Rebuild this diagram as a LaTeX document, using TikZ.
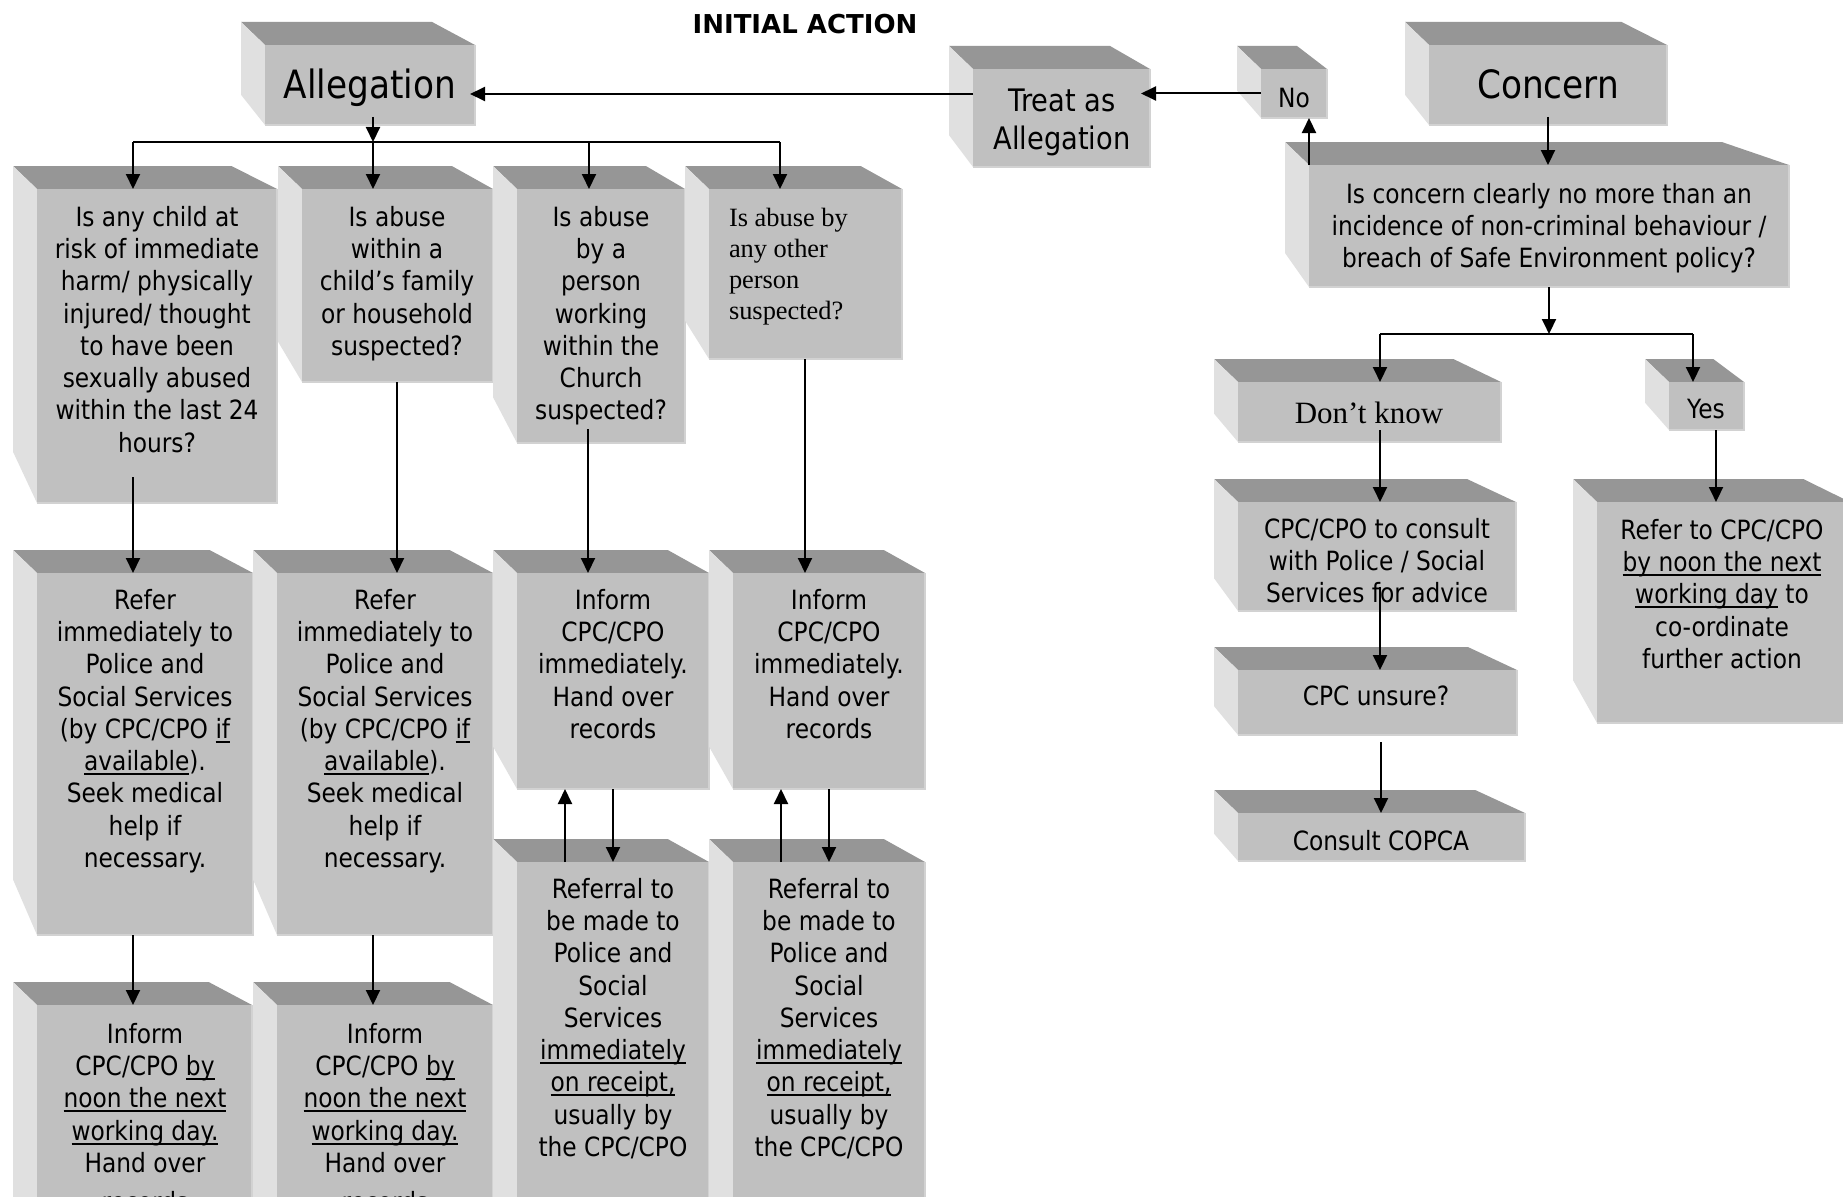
\documentclass[tikz,border=0pt]{standalone}
\usepackage{fontspec}
\setmainfont{DejaVu Sans}[FakeStretch=0.88]
\newfontfamily\tserif{Liberation Serif}
\newfontfamily\ttitle{DejaVu Sans}
\usetikzlibrary{arrows.meta,calc}
\definecolor{frontc}{HTML}{C0C0C0}
\definecolor{topc}{HTML}{969696}
\definecolor{sidec}{HTML}{E0E0E0}
\definecolor{edgec}{HTML}{D2D2D2}
\newsavebox\ulbox
\newcommand\ul[1]{\sbox\ulbox{#1}\rlap{\rule[-4.5pt]{\wd\ulbox}{2pt}}\usebox\ulbox}
\newcommand\bodysize{\fontsize{26.5}{32.3}\selectfont}
\newcommand\boxthree[5]{%
  \pgfmathsetmacro\cw{#4-#2}\pgfmathsetmacro\ch{#5-#3}%
  \fill[topc] (#2,#3) -- ({#2-24},{#3-23}) -- ({#2-24+0.91*\cw},{#3-23}) -- (#4,#3) -- cycle;
  \fill[sidec] (#2,#3) -- ({#2-24},{#3-23}) -- ({#2-24},{#3-23+0.91*\ch}) -- (#2,#5) -- cycle;
  \node[frontface, minimum width=\cw pt, minimum height=\ch pt, anchor=north west] (#1) at (#2,#3) {};
  \draw[edgec, line width=2pt] (#4,#3) -- (#4,#5) -- (#2,#5);
}
\tikzset{
  frontface/.style={fill=frontc, draw=none, inner sep=0pt, outer sep=0pt},
  txt/.style={inner sep=0pt, outer sep=0pt, align=center, font=\bodysize},
  arr/.style={line width=2pt, -{Triangle[length=15pt,width=14pt]}},
  ln/.style={line width=2pt}
}
\begin{document}
\begin{tikzpicture}[x=1pt,y=-1pt]
\useasboundingbox (0,0) rectangle (1843,1196);
\clip (0,0) rectangle (1843,1196);
\fill[white] (0,0) rectangle (1843,1196);

% boxes
\boxthree{alleg}{265}{45}{475}{125}
\boxthree{treat}{973}{69}{1150}{167}
\boxthree{no}{1261}{69}{1327}{118}
\boxthree{concern}{1429}{45}{1667}{125}
\boxthree{isconc}{1309}{165}{1789}{287}
\boxthree{q1}{37}{189}{277}{503}
\boxthree{q2}{302}{189}{493}{382}
\boxthree{q3}{517}{189}{685}{443}
\boxthree{q4}{709}{189}{902}{359}
\boxthree{r1}{37}{573}{253}{935}
\boxthree{r2}{277}{573}{493}{935}
\boxthree{i3}{517}{573}{709}{789}
\boxthree{i4}{733}{573}{925}{789}
\boxthree{n1}{37}{1005}{252}{1320}
\boxthree{n2}{277}{1005}{493}{1320}
\boxthree{f3}{517}{862}{709}{1320}
\boxthree{f4}{733}{862}{925}{1320}
\boxthree{dk}{1238}{382}{1501}{442}
\boxthree{yes}{1669}{382}{1744}{430}
\boxthree{consult}{1238}{502}{1516}{611}
\boxthree{unsure}{1238}{670}{1517}{735}
\boxthree{copca}{1238}{813}{1525}{861}
\boxthree{refer}{1597}{502}{1850}{723}

% title
\node[inner sep=0pt, font=\ttitle\bfseries\fontsize{26}{31}\selectfont] (title) at (805,24) {INITIAL ACTION};

% texts
\node[txt, anchor=base, font=\fontsize{39}{47}\selectfont] (allegt) at (370,99) {Allegation};
\node[txt, anchor=north, font=\fontsize{31}{37.5}\selectfont] (treatt) at (1062,89) {Treat as\\Allegation};
\node[txt, anchor=base] (not) at (1294,107) {No};
\node[txt, anchor=base, font=\fontsize{39}{47}\selectfont] (concernt) at (1548,99) {Concern};
\node[txt, anchor=north] (isconct) at (1549,183) {Is concern clearly no more than an\\incidence of non-criminal behaviour /\\breach of Safe Environment policy?};
\node[txt, anchor=north] (q1t) at (157,206) {Is any child at\\risk of immediate\\harm/ physically\\injured/ thought\\to have been\\sexually abused\\within the last 24\\hours?};
\node[txt, anchor=north] (q2t) at (397,206) {Is abuse\\within a\\child’s family\\or household\\suspected?};
\node[txt, anchor=north] (q3t) at (601,206) {Is abuse\\by a\\person\\working\\within the\\Church\\suspected?};
\node[txt, anchor=north west, align=left, font=\tserif\fontsize{26.4}{31}\selectfont] (q4t) at (729,208) {Is abuse by\\any other\\person\\suspected?};
\node[txt, anchor=north] (r1t) at (145,589) {Refer\\immediately to\\Police and\\Social Services\\(by CPC/CPO \ul{if}\\\ul{available}).\\Seek medical\\help if\\necessary.};
\node[txt, anchor=north] (r2t) at (385,589) {Refer\\immediately to\\Police and\\Social Services\\(by CPC/CPO \ul{if}\\\ul{available}).\\Seek medical\\help if\\necessary.};
\node[txt, anchor=north] (i3t) at (613,589) {Inform\\CPC/CPO\\immediately.\\Hand over\\records};
\node[txt, anchor=north] (i4t) at (829,589) {Inform\\CPC/CPO\\immediately.\\Hand over\\records};
\node[txt, anchor=north] (n1t) at (145,1023) {Inform\\CPC/CPO \ul{by}\\\ul{noon the next}\\\ul{working day.}\\Hand over\\[7pt]records};
\node[txt, anchor=north] (n2t) at (385,1023) {Inform\\CPC/CPO \ul{by}\\\ul{noon the next}\\\ul{working day.}\\Hand over\\[7pt]records};
\node[txt, anchor=north] (f3t) at (613,878) {Referral to\\be made to\\Police and\\Social\\Services\\\ul{immediately}\\\ul{on receipt,}\\usually by\\the CPC/CPO};
\node[txt, anchor=north] (f4t) at (829,878) {Referral to\\be made to\\Police and\\Social\\Services\\\ul{immediately}\\\ul{on receipt,}\\usually by\\the CPC/CPO};
\node[txt, anchor=base, font=\tserif\fontsize{31}{37}\selectfont] (dkt) at (1369,423) {Don’t know};
\node[txt, anchor=base] (yest) at (1706,418) {Yes};
\node[txt, anchor=north] (consultt) at (1377,518) {CPC/CPO to consult\\with Police / Social\\Services for advice};
\node[txt, anchor=base] (unsuret) at (1376,705) {CPC unsure?};
\node[txt, anchor=base] (copcat) at (1381,850) {Consult COPCA};
\node[txt, anchor=north] (refert) at (1722,519) {Refer to CPC/CPO\\\ul{by noon the next}\\\ul{working day} to\\co-ordinate\\further action};

% connectors: top
\draw[arr] ($(treat.west)+(0,-24)$) -- ($(alleg.east)+(-5,9)$);
\draw[arr] (no.west) -- ($(treat.east)+(-9,-24.5)$);
\draw[arr] (isconc.north west) -- ($(no.south east)+(-18,0)$);
\draw[arr] ($(concern.south)+(0,-8)$) -- (concern.south |- isconc.north);

% left bus
\coordinate (b1) at (133,142);
\coordinate (b2) at (373,142);
\coordinate (b3) at (589,142);
\coordinate (b4) at (780,142);
\draw[arr] ($(alleg.south west)+(108,-8)$) -- (b2);
\draw[ln] (b1) -- (b4);
\draw[arr] (b1) -- (b1 |- q1.north);
\draw[arr] (b2) -- (b2 |- q2.north);
\draw[arr] (b3) -- (b3 |- q3.north);
\draw[arr] (b4) -- (b4 |- q4.north);

% columns
\coordinate (d1) at ($(q1.south west)+(96,-26)$);
\draw[arr] (d1) -- (d1 |- r1.north);
\coordinate (d2) at ($(q2.south west)+(95,0)$);
\draw[arr] (d2) -- (d2 |- r2.north);
\coordinate (d3) at ($(q3.south west)+(71,-14)$);
\draw[arr] (d3) -- (d3 |- i3.north);
\coordinate (d4) at ($(q4.south west)+(96,0)$);
\draw[arr] (d4) -- (d4 |- i4.north);
\coordinate (e1) at ($(r1.south west)+(96,0)$);
\draw[arr] (e1) -- (e1 |- n1.north);
\coordinate (e2) at ($(r2.south west)+(96,0)$);
\draw[arr] (e2) -- (e2 |- n2.north);
\draw[arr] (i3.south) -- (i3.south |- f3.north);
\coordinate (u3) at ($(f3.north west)+(48,0)$);
\draw[arr] (u3) -- (u3 |- i3.south);
\draw[arr] (i4.south) -- (i4.south |- f4.north);
\coordinate (u4) at ($(f4.north west)+(48,0)$);
\draw[arr] (u4) -- (u4 |- i4.south);

% right side
\coordinate (rb) at (1549,334);
\coordinate (rbl) at (1380,334);
\coordinate (rbr) at (1693,334);
\draw[arr] (isconc.south) -- (rb);
\draw[ln] (rbl) -- (rbr);
\draw[arr] (rbl) -- (rbl |- dk.north);
\draw[arr] (rbr) -- (rbr |- yes.north);
\coordinate (c1) at ($(dk.south west)+(142,-12)$);
\draw[arr] (c1) -- (c1 |- consult.north);
\coordinate (c2) at ($(consult.south west)+(142,-24)$);
\draw[arr] (c2) -- (c2 |- unsure.north);
\coordinate (c3) at ($(unsure.south west)+(143,7)$);
\draw[arr] (c3) -- (c3 |- copca.north);
\coordinate (c4) at ($(yes.south east)+(-28,0)$);
\draw[arr] (c4) -- (c4 |- refer.north);
\end{tikzpicture}
\end{document}
